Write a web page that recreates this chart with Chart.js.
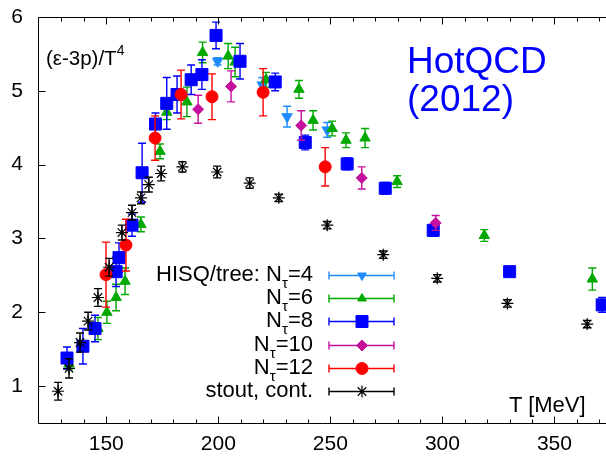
<!DOCTYPE html>
<html>
<head>
<meta charset="utf-8">
<script src="https://cdn.jsdelivr.net/npm/chart.js@4.4.1/dist/chart.umd.min.js"></script>
<style>
  body { margin: 0; background: #fff; font-family: "Liberation Sans", Arial, sans-serif; }
  #wrap { position: relative; width: 606px; height: 456px; overflow: hidden; }
  #plot { position: absolute; left: 0; top: 0; }
  .txt { position: absolute; color: #000; white-space: nowrap; }
  .txt sup { font-size: 14px; vertical-align: 0; position: relative; top: -10px; }
  .lg { position: absolute; right: 293px; font-size: 22px; line-height: 22px; text-align: right; white-space: nowrap; }
  .lg sub { font-size: 15px; vertical-align: 0; position: relative; top: 7px; line-height: 0; }
  #tag { position: absolute; left: 407px; top: 42px; color: #0000ff; font-size: 37px; line-height: 38px; }
</style>
</head>
<body>
<div id="wrap">
  <canvas id="plot" width="606" height="456"></canvas>
  <div class="txt" style="left:46px;top:47px;font-size:20.5px;line-height:21px;">(ε-3p)/T<sup>4</sup></div>
  <div id="tag">HotQCD<br>(2012)</div>
  <div class="txt" style="left:509px;top:394px;font-size:22px;line-height:22px;">T [MeV]</div>
  <div class="lg" style="top:263px;">HISQ/tree: N<sub>τ</sub>=4</div>
  <div class="lg" style="top:286px;">N<sub>τ</sub>=6</div>
  <div class="lg" style="top:309px;">N<sub>τ</sub>=8</div>
  <div class="lg" style="top:333px;">N<sub>τ</sub>=10</div>
  <div class="lg" style="top:356px;">N<sub>τ</sub>=12</div>
  <div class="lg" style="top:379px;">stout, cont.</div>
</div>
<script>
// trace anomaly (e-3p)/T^4 vs T, HISQ/tree lattices and stout continuum
const tN4 = [199.7, 219.6, 230.7, 248.6];
const vN4 = [5.40, 5.08, 4.65, 4.47];
const eN4 = [0.05, 0.10, 0.14, 0.10];

const tN6 = [133.4, 146.3, 150.3, 154.4, 158.4, 165.5, 174, 177, 186, 193, 204.4, 207.5, 221.3, 236, 242.3, 250.8, 257, 265.5, 279.8, 318.7, 366.9];
const vN6 = [1.30, 1.78, 2.00, 2.20, 2.42, 3.19, 4.18, 4.71, 4.85, 5.52, 5.47, 5.39, 5.15, 5.02, 4.60, 4.49, 4.33, 4.36, 3.77, 3.04, 2.45];
const eN6 = [0.08, 0.15, 0.15, 0.18, 0.18, 0.10, 0.10, 0.10, 0.20, 0.14, 0.17, 0.20, 0.10, 0.12, 0.13, 0.10, 0.10, 0.13, 0.08, 0.08, 0.15];

const tN8 = [132.5, 139.6, 145, 154.4, 155.7, 161.5, 166, 172, 177, 181.6, 187.9, 192.7, 199, 209.7, 225.4, 238.8, 257.5, 274.5, 295.9, 330, 371.3];
const vN8 = [1.38, 1.54, 1.78, 2.55, 2.74, 3.18, 3.89, 4.55, 4.83, 4.95, 5.15, 5.22, 5.75, 5.40, 5.12, 4.30, 4.01, 3.68, 3.11, 2.55, 2.10];
const eN8 = [0.15, 0.24, 0.18, 0.20, 0.20, 0.15, 0.40, 0.15, 0.35, 0.25, 0.20, 0.20, 0.18, 0.24, 0.12, 0.10, 0.08, 0.08, 0.08, 0.05, 0.10];

const tN10 = [191, 205.7, 237, 264, 297];
const vN10 = [4.75, 5.06, 4.53, 3.82, 3.21];
const eN10 = [0.19, 0.21, 0.20, 0.15, 0.10];

const tN12 = [149.9, 158.8, 171.8, 183.4, 197.2, 220, 247.7];
const vN12 = [2.51, 2.91, 4.36, 4.95, 4.92, 4.98, 3.97];
const eN12 = [0.44, 0.35, 0.30, 0.33, 0.31, 0.32, 0.26];

const tStout = [128.5, 133.4, 138.3, 141.9, 146.3, 151.3, 157, 161.5, 165.5, 169, 174.5, 184, 199.5, 214, 227, 248.6, 273.6, 297.7, 329, 364.6];
const vStout = [0.93, 1.24, 1.59, 1.88, 2.20, 2.61, 3.08, 3.35, 3.55, 3.73, 3.88, 3.97, 3.90, 3.75, 3.55, 3.18, 2.78, 2.46, 2.12, 1.84];
const eStout = [0.12, 0.13, 0.13, 0.12, 0.12, 0.12, 0.10, 0.10, 0.08, 0.10, 0.10, 0.07, 0.08, 0.07, 0.05, 0.05, 0.05, 0.05, 0.05, 0.05];

const xTicks = [150, 200, 250, 300, 350];
const yTicks = [1, 2, 3, 4, 5, 6];

const pts = (t, v) => t.map((x, i) => ({ x: x, y: v[i] }));

function series(label, t, v, e, color, style, radius, rotation, order) {
  return {
    label, data: pts(t, v), errors: e, order,
    pointStyle: style, pointRadius: radius, pointRotation: rotation || 0,
    backgroundColor: color, borderColor: color, pointBorderWidth: style === 'star' ? 1.2 : 1,
    showLine: false
  };
}

const datasets = [
  series('N4', tN4, vN4, eN4, '#1e8cff', 'triangle', 6, 180, 5),
  series('N6', tN6, vN6, eN6, '#00a800', 'triangle', 6, 0, 4),
  series('N8', tN8, vN8, eN8, '#0000ff', 'rect', 8.5, 0, 3),
  series('N10', tN10, vN10, eN10, '#c4109c', 'rectRot', 5.5, 0, 2),
  series('N12', tN12, vN12, eN12, '#ff0000', 'circle', 6, 0, 1),
  series('stout', tStout, vStout, eStout, '#000000', 'star', 6, 0, 0)
];

// vertical error bars, drawn just before each set of markers
const errorBars = {
  id: 'errorBars',
  beforeDatasetDraw(chart, args) {
    const ds = chart.data.datasets[args.index];
    const xs = chart.scales.x, ys = chart.scales.y;
    const c = chart.ctx;
    c.save();
    c.beginPath();
    c.rect(chart.chartArea.left, chart.chartArea.top, chart.chartArea.width, chart.chartArea.height);
    c.clip();
    c.strokeStyle = ds.borderColor;
    c.lineWidth = 1.4;
    ds.errors.forEach((e, i) => {
      const p = ds.data[i];
      const px = xs.getPixelForValue(p.x);
      const lo = ys.getPixelForValue(p.y - e), hi = ys.getPixelForValue(p.y + e);
      c.beginPath();
      c.moveTo(px, lo); c.lineTo(px, hi);
      c.moveTo(px - 4, lo); c.lineTo(px + 4, lo);
      c.moveTo(px - 4, hi); c.lineTo(px + 4, hi);
      c.stroke();
    });
    c.restore();
  }
};

// box with inward ticks, gnuplot style
const frame = {
  id: 'frame',
  afterDraw(chart) {
    const { left, right, top, bottom } = chart.chartArea;
    const xs = chart.scales.x, ys = chart.scales.y;
    const c = chart.ctx;
    c.save();
    c.strokeStyle = '#000';
    c.lineWidth = 1;
    const L = Math.floor(left) - 0.5, T = Math.floor(top) + 0.5, B = Math.floor(bottom) + 0.5;
    c.beginPath();
    c.moveTo(L, T); c.lineTo(right + 2, T);
    c.moveTo(L, T); c.lineTo(L, B); c.lineTo(right + 2, B);
    for (let v = 130; v <= xs.max; v += 10) {
      const px = Math.round(xs.getPixelForValue(v)) + 0.5;
      const len = v % 50 === 0 ? 7 : 4;
      c.moveTo(px, B); c.lineTo(px, B - len);
      c.moveTo(px, T); c.lineTo(px, T + len);
    }
    yTicks.forEach(v => {
      const py = Math.round(ys.getPixelForValue(v)) + 0.5;
      c.moveTo(L, py); c.lineTo(L + 7, py);
    });
    c.stroke();
    c.restore();
  }
};

// legend samples: error bar line with marker
const legendRowY = [275, 298, 321, 345, 368, 391];
const legendSamples = {
  id: 'legendSamples',
  afterDraw(chart) {
    const c = chart.ctx;
    chart.data.datasets.forEach((ds, i) => {
      const y = legendRowY[i] + 0.5;
      c.save();
      c.strokeStyle = ds.borderColor;
      c.fillStyle = ds.backgroundColor;
      c.lineWidth = 1.4;
      c.beginPath();
      c.moveTo(329, y); c.lineTo(394, y);
      c.moveTo(329, y - 4); c.lineTo(329, y + 4);
      c.moveTo(394, y - 4); c.lineTo(394, y + 4);
      c.stroke();
      const small = ds.pointStyle === 'triangle' ? 5 : ds.pointRadius;
      c.lineWidth = ds.pointBorderWidth;
      Chart.helpers.drawPoint(c, { pointStyle: ds.pointStyle, radius: small, rotation: ds.pointRotation, borderWidth: ds.pointBorderWidth }, 362, y);
      c.restore();
    });
  }
};

const tickFont = { family: '"Liberation Sans", Arial, sans-serif', size: 21 };

new Chart(document.getElementById('plot'), {
  type: 'scatter',
  data: { datasets },
  options: {
    responsive: false,
    animation: false,
    layout: { autoPadding: false, padding: { top: 17, right: 0, left: 0, bottom: 0 } },
    plugins: { legend: { display: false }, tooltip: { enabled: false } },
    scales: {
      x: {
        type: 'linear', min: 120, max: 373,
        grid: { display: false, drawTicks: false },
        border: { display: false },
        ticks: { color: '#000', font: tickFont, padding: 9, maxRotation: 0 },
        afterBuildTicks: s => { s.ticks = xTicks.map(v => ({ value: v })); },
        afterFit: s => { s.height = 33; s.paddingLeft = 0; s.paddingRight = 0; }
      },
      y: {
        type: 'linear', min: 0.5, max: 6,
        grid: { display: false, drawTicks: false },
        border: { display: false },
        ticks: { color: '#000', font: tickFont, padding: 16 },
        afterBuildTicks: s => { s.ticks = yTicks.map(v => ({ value: v })); },
        afterFit: s => { s.width = 39; s.paddingTop = 0; s.paddingBottom = 0; }
      }
    }
  },
  plugins: [errorBars, frame, legendSamples]
});
</script>
</body>
</html>
